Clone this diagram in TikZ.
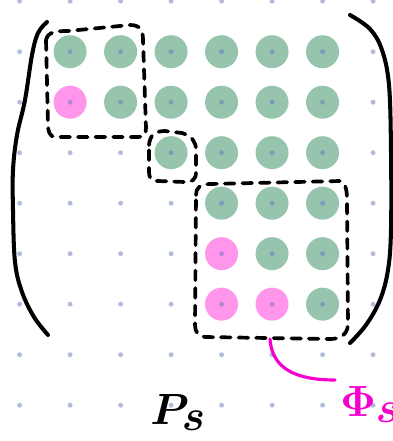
\documentclass[tikz,border=0pt]{standalone}
\usepackage{tikz}
\usetikzlibrary{positioning}
\definecolor{dotblue}{RGB}{100,120,190}
\definecolor{entrygreen}{RGB}{150,196,172}
\definecolor{entrypink}{RGB}{255,150,236}
\definecolor{hlmagenta}{RGB}{245,0,205}

\begin{document}
\begin{tikzpicture}[
    x=0.02cm, y=-0.02cm,
    node distance=1.01cm,
    entry/.style={circle, inner sep=0pt, minimum size=0.66cm},
    green entry/.style={entry, fill=entrygreen},
    pink entry/.style={entry, fill=entrypink},
    paren/.style={line width=2.3pt, line cap=round, line join=round},
    dashed box/.style={line width=2.1pt, line cap=round, dash pattern=on 5.5pt off 4.5pt},
    link/.style={hlmagenta, line width=1.8pt, line cap=round}
]
    \useasboundingbox (0,0) rectangle (393,441);

    % matrix entries
    \node (m11) [green entry] at (70.1,51.7) {};
    \node (m12) [green entry, right of=m11] {};
    \node (m13) [green entry, right of=m12] {};
    \node (m14) [green entry, right of=m13] {};
    \node (m15) [green entry, right of=m14] {};
    \node (m16) [green entry, right of=m15] {};
    \node (m21) [pink entry, below of=m11] {};
    \node (m22) [green entry, right of=m21] {};
    \node (m23) [green entry, right of=m22] {};
    \node (m24) [green entry, right of=m23] {};
    \node (m25) [green entry, right of=m24] {};
    \node (m26) [green entry, right of=m25] {};
    \node (m33) [green entry, below of=m23] {};
    \node (m34) [green entry, right of=m33] {};
    \node (m35) [green entry, right of=m34] {};
    \node (m36) [green entry, right of=m35] {};
    \node (m44) [green entry, below of=m34] {};
    \node (m45) [green entry, right of=m44] {};
    \node (m46) [green entry, right of=m45] {};
    \node (m54) [pink entry, below of=m44] {};
    \node (m55) [green entry, right of=m54] {};
    \node (m56) [green entry, right of=m55] {};
    \node (m64) [pink entry, below of=m54] {};
    \node (m65) [pink entry, below of=m55] {};
    \node (m66) [green entry, right of=m65] {};

    % dot grid
    \foreach \i in {0,...,7}
        \foreach \j in {0,...,8}
            \fill[dotblue, opacity=0.5] (19.6+50.5*\i, 1.2+50.5*\j) circle (1.4pt);

    % parentheses
    \draw[paren] plot[smooth, tension=0.6] coordinates {(47,22) (38,33) (32,55) (25,100) (17,135) (13,170) (13,210) (15,262) (22,292) (34,317) (48,335)};
    \draw[paren] plot[smooth, tension=0.6] coordinates {(350,15) (370,29) (382,50) (389,85) (391,150) (391,230) (388,270) (380,300) (366,325) (350,343)};

    % diagonal blocks
    \draw[dashed box] (46,40) .. controls (48,32) and (55,31) .. (68,31) -- (130,25)
        .. controls (140,25) and (143,30) .. (143,40) -- (146,128)
        .. controls (146,134) and (144,137) .. (138,137) -- (56,137)
        .. controls (50,137) and (48,132) .. (48,125) -- cycle;
    \draw[dashed box] (149,145) .. controls (150,135) and (155,131) .. (165,131) -- (182,133)
        .. controls (192,136) and (196,142) .. (196,150) -- (196,172)
        .. controls (196,180) and (192,182) .. (185,182) -- (158,181)
        .. controls (151,181) and (149,178) .. (149,172) -- cycle;
    \draw[dashed box] (196,195) .. controls (196,188) and (200,184) .. (210,184) -- (340,181)
        .. controls (345,183) and (347,188) .. (347,200) -- (348,325)
        .. controls (347,335) and (340,339) .. (330,339) -- (205,337)
        .. controls (198,336) and (195,332) .. (195,325) -- cycle;

    % labels
    \node (ps) [anchor=base west, inner sep=0pt, font=\fontsize{68}{74}\selectfont\boldmath] at (150,424) {$P_s$};
    \node (phi) [anchor=base west, inner sep=0pt, text=hlmagenta, font=\fontsize{62}{70}\selectfont\boldmath] at (340,416) {$\Phi_s$};
    \coordinate (tail) at (270,339);
    \coordinate (head) at (335,380);
    \draw[link] (tail) .. controls (272,370) and (298,380) .. (head);
\end{tikzpicture}
\end{document}
